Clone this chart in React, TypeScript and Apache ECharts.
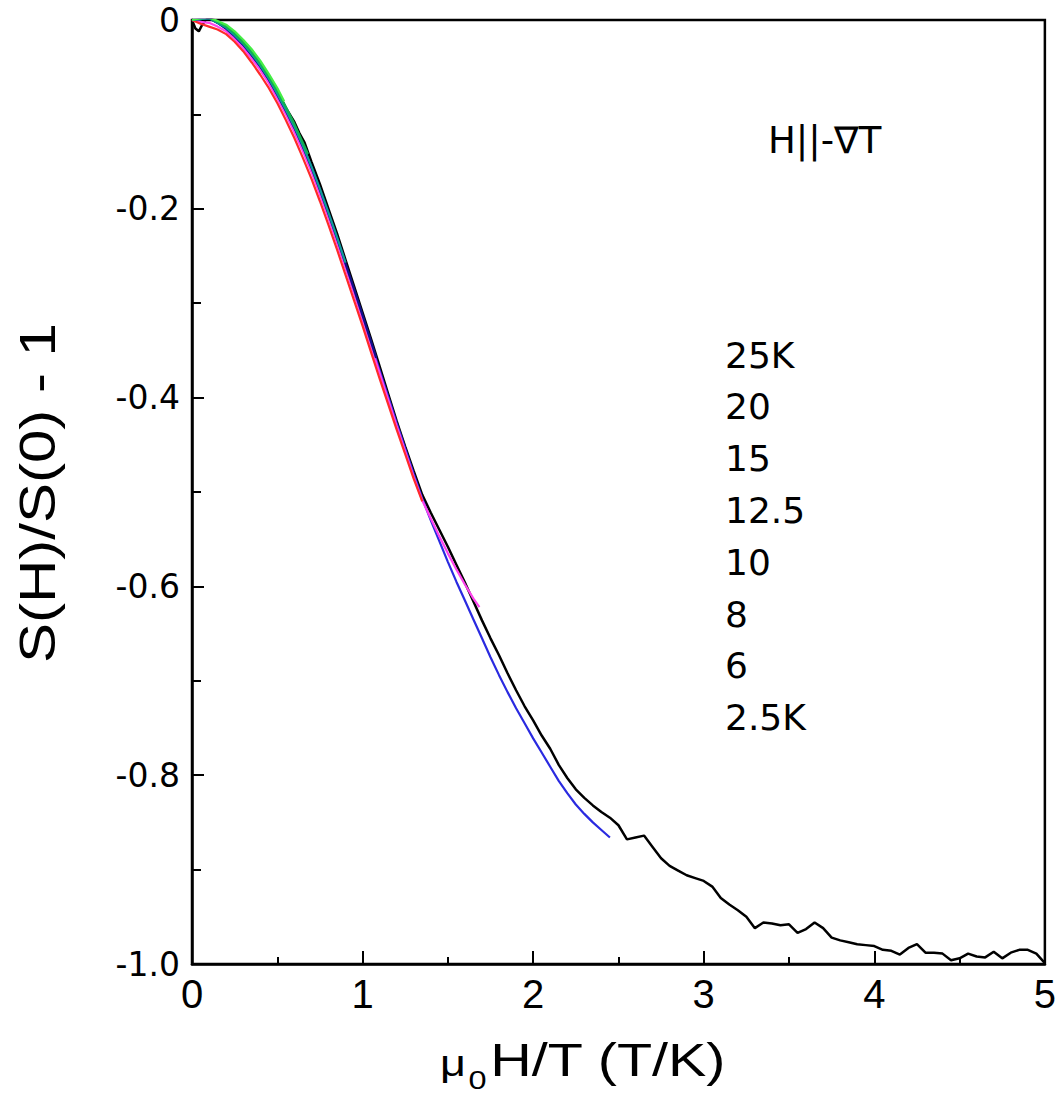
import React, { useEffect, useRef } from "react";
import * as echarts from "echarts";

const FONT = "'Liberation Sans', Arial, Helvetica, sans-serif";
const WIDE = "'DejaVu Sans', 'Liberation Sans', sans-serif";

// shared field grid (T/K)
const xStep = [
  0, 0.05, 0.1, 0.15, 0.2, 0.25, 0.3, 0.35, 0.4, 0.45, 0.5, 0.55, 0.6, 0.65, 0.7, 0.75, 0.8, 0.85, 0.9, 0.95,
  1, 1.05, 1.1, 1.15, 1.2, 1.25, 1.3, 1.35, 1.4, 1.45, 1.5, 1.55, 1.6, 1.65, 1.7, 1.75, 1.8, 1.85, 1.9, 1.95,
  2, 2.05, 2.1, 2.15, 2.2, 2.25, 2.3, 2.35, 2.4, 2.45,
];

const y25K = [0, 0.002, 0.003, -0.001, -0.005, -0.012, -0.021, -0.031, -0.043, -0.057, -0.072];
const end25K = [0.54, -0.086];

const y20K = [0, 0.002, 0.002, -0.002, -0.007, -0.014, -0.024, -0.034, -0.046, -0.06, -0.075, -0.092, -0.11, -0.13];
const end20K = [0.68, -0.142];

const y15K = [0, 0.001, 0.002, -0.003, -0.008, -0.016, -0.025, -0.036, -0.048, -0.062, -0.078, -0.095, -0.113, -0.133,
  -0.155, -0.179, -0.204, -0.23, -0.257];

const y12_5K = [0, 0.001, 0.002, -0.003, -0.009, -0.017, -0.026, -0.037, -0.049, -0.063, -0.079, -0.096, -0.114, -0.134,
  -0.156, -0.18, -0.205, -0.231, -0.258, -0.285, -0.313, -0.341];
const end12_5K = [1.08, -0.358];

const y10K = [0, -0.004, -0.007, -0.01, -0.015, -0.023, -0.033, -0.045, -0.058, -0.072, -0.088, -0.106, -0.125, -0.146,
  -0.168, -0.192, -0.217, -0.243, -0.27, -0.297, -0.324, -0.352, -0.38, -0.407, -0.434, -0.46, -0.486, -0.51];

const y8K = [0, -0.002, -0.003, -0.007, -0.012, -0.02, -0.03, -0.041, -0.053, -0.067, -0.083, -0.1, -0.119, -0.139,
  -0.161, -0.185, -0.21, -0.236, -0.263, -0.29, -0.318, -0.346, -0.374, -0.402, -0.43, -0.457, -0.484, -0.509,
  -0.528, -0.547, -0.565, -0.582, -0.598, -0.613];
const end8K = [1.685, -0.622];

const y6K = [0, 0.001, 0.002, -0.003, -0.009, -0.017, -0.027, -0.038, -0.05, -0.064, -0.08, -0.097, -0.116, -0.136,
  -0.158, -0.182, -0.207, -0.234, -0.261, -0.288, -0.315, -0.343, -0.371, -0.399, -0.427, -0.454, -0.481, -0.507,
  -0.53, -0.552, -0.574, -0.595, -0.615, -0.635, -0.655, -0.675, -0.694, -0.712, -0.729, -0.745, -0.761, -0.776,
  -0.791, -0.806, -0.819, -0.831, -0.841, -0.85, -0.858, -0.866];

const x2_5K = [
  0, 0.02, 0.04, 0.06, 0.08, 0.1, 0.13, 0.17, 0.2, 0.25, 0.3, 0.35, 0.4, 0.45, 0.5, 0.55, 0.6, 0.63, 0.66, 0.7,
  0.75, 0.8, 0.85, 0.9, 0.95, 1, 1.05, 1.1, 1.15, 1.2, 1.25, 1.3, 1.35, 1.4, 1.45, 1.5, 1.55, 1.6, 1.65, 1.7,
  1.75, 1.8, 1.85, 1.9, 1.95, 2, 2.05, 2.1, 2.15, 2.2, 2.25, 2.3, 2.35, 2.4, 2.45, 2.5, 2.55, 2.6, 2.65, 2.7,
  2.75, 2.8, 2.85, 2.9, 2.95, 3, 3.05, 3.1, 3.15, 3.2, 3.25, 3.3, 3.35, 3.4, 3.45, 3.5, 3.55, 3.6, 3.65, 3.7,
  3.75, 3.8, 3.85, 3.9, 3.95, 4, 4.05, 4.1, 4.15, 4.2, 4.25, 4.3, 4.35, 4.4, 4.45, 4.5, 4.55, 4.6, 4.65, 4.7,
  4.75, 4.8, 4.85, 4.9, 4.95, 5,
];
const y2_5K = [
  0, -0.009, -0.012, -0.005, 0, 0.002, 0, -0.004, -0.007, -0.015, -0.024, -0.035, -0.047, -0.06, -0.075, -0.093, -0.108, -0.12, -0.13, -0.15,
  -0.174, -0.2, -0.226, -0.254, -0.282, -0.31, -0.338, -0.367, -0.396, -0.425, -0.452, -0.478, -0.503, -0.522, -0.54, -0.558, -0.577, -0.596, -0.616, -0.636,
  -0.655, -0.673, -0.692, -0.71, -0.727, -0.742, -0.758, -0.772, -0.789, -0.803, -0.815, -0.824, -0.832, -0.839, -0.845, -0.853, -0.868, -0.866, -0.864, -0.876,
  -0.888, -0.896, -0.901, -0.906, -0.909, -0.912, -0.918, -0.93, -0.937, -0.943, -0.95, -0.962, -0.956, -0.957, -0.959, -0.958, -0.967, -0.963, -0.956, -0.962,
  -0.972, -0.975, -0.977, -0.979, -0.98, -0.981, -0.985, -0.986, -0.99, -0.983, -0.979, -0.988, -0.988, -0.989, -0.996, -0.994, -0.989, -0.992, -0.993, -0.987,
  -0.994, -0.988, -0.985, -0.985, -0.989, -0.999,
];

const legendLabels = ["25K", "20", "15", "12.5", "10", "8", "6", "2.5K"];
const fieldLabel = "H||-∇T";
const yTitle = "S(H)/S(0) - 1";

const pairs = (xs: number[], ys: number[]) => ys.map((y, i) => [xs[i], y]);

export default function App() {
  const ref = useRef<HTMLDivElement>(null);
  useEffect(() => {
    const chart = echarts.init(ref.current!, null, { renderer: "svg" });
    const mk = (name: string, data: number[][], color: string, width: number) => ({
      name,
      type: "line",
      data,
      showSymbol: false,
      symbol: "none",
      lineStyle: { color, width },
      itemStyle: { color },
      z: 2,
    });
    const option: any = {
      animation: false,
      backgroundColor: "#fff",
      grid: {
        left: 192,
        top: 20,
        right: 13,
        bottom: 137,
        show: true,
        borderColor: "#000",
        borderWidth: 2.5,
      },
      xAxis: {
        type: "value",
        min: 0,
        max: 5,
        interval: 1,
        axisLine: { show: true, onZero: false, lineStyle: { color: "#000", width: 2.5 } },
        axisTick: { show: true, inside: true, length: 13, lineStyle: { color: "#000", width: 2 } },
        minorTick: { show: true, splitNumber: 2, length: 7, lineStyle: { color: "#000", width: 2 } },
        splitLine: { show: false },
        axisLabel: { color: "#000", fontSize: 40, fontFamily: FONT, margin: 10 },
      },
      yAxis: {
        type: "value",
        min: -1,
        max: 0,
        interval: 0.2,
        axisLine: { show: true, onZero: false, lineStyle: { color: "#000", width: 2.5 } },
        axisTick: { show: true, inside: true, length: 12, lineStyle: { color: "#000", width: 2 } },
        minorTick: { show: true, splitNumber: 2, length: 9, lineStyle: { color: "#000", width: 2 } },
        splitLine: { show: false },
        axisLabel: {
          color: "#000",
          fontSize: 33,
          fontFamily: WIDE,
          margin: 12,
          formatter: (v: number) => (Math.abs(v) < 1e-9 ? "0" : v.toFixed(1)),
        },
      },
      series: [
        mk("2.5K", pairs(x2_5K, y2_5K), "#000000", 2.5),
        mk("6K", pairs(xStep, y6K), "#2a2ae0", 2.2),
        mk("8K", [...pairs(xStep, y8K), end8K], "#ff44ee", 2.2),
        mk("10K", pairs(xStep, y10K), "#ff2a2a", 2.2),
        mk("12.5K", [...pairs(xStep, y12_5K), end12_5K], "#10108a", 2.4),
        mk("15K", pairs(xStep, y15K), "#109a9a", 2.2),
        mk("20K", [...pairs(xStep, y20K), end20K], "#10b050", 2.2),
        mk("25K", [...pairs(xStep, y25K), end25K], "#44ee44", 2.2),
      ],
      graphic: [
        {
          type: "text",
          x: 38,
          y: 493,
          rotation: Math.PI / 2,
          scaleX: 1.2,
          style: { text: yTitle, fontSize: 50, fontFamily: FONT, fill: "#000", align: "center", verticalAlign: "middle" },
        },
        {
          type: "text",
          x: 768,
          y: 140,
          style: { text: fieldLabel, fontSize: 37, fontFamily: WIDE, fill: "#000", verticalAlign: "middle", align: "left" },
        },
        ...legendLabels.map((t, i) => ({
          type: "text",
          x: 725,
          y: 355 + i * 51.8,
          style: { text: t, fontSize: 36, fontFamily: WIDE, fill: "#000", verticalAlign: "middle", align: "left" },
        })),
        {
          type: "text",
          x: 440,
          y: 1060,
          scaleX: 1.25,
          style: {
            text: "{m|μ}{s|0}{n|H/T (T/K)}",
            fontFamily: FONT,
            fill: "#000",
            verticalAlign: "middle",
            align: "left",
            rich: {
              m: { fontSize: 36, fontFamily: FONT, fill: "#000", padding: [8, 2, 0, 0] },
              s: { fontSize: 26, fontFamily: FONT, fill: "#000", padding: [40, 3, 0, 0] },
              n: { fontSize: 46, fontFamily: FONT, fill: "#000" },
            },
          },
        },
      ],
    };
    chart.setOption(option);
    return () => chart.dispose();
  }, []);
  return (
    <div
      ref={ref}
      style={{ position: "fixed", left: 0, top: 0, width: 1059, height: 1101, background: "#fff" }}
    />
  );
}
